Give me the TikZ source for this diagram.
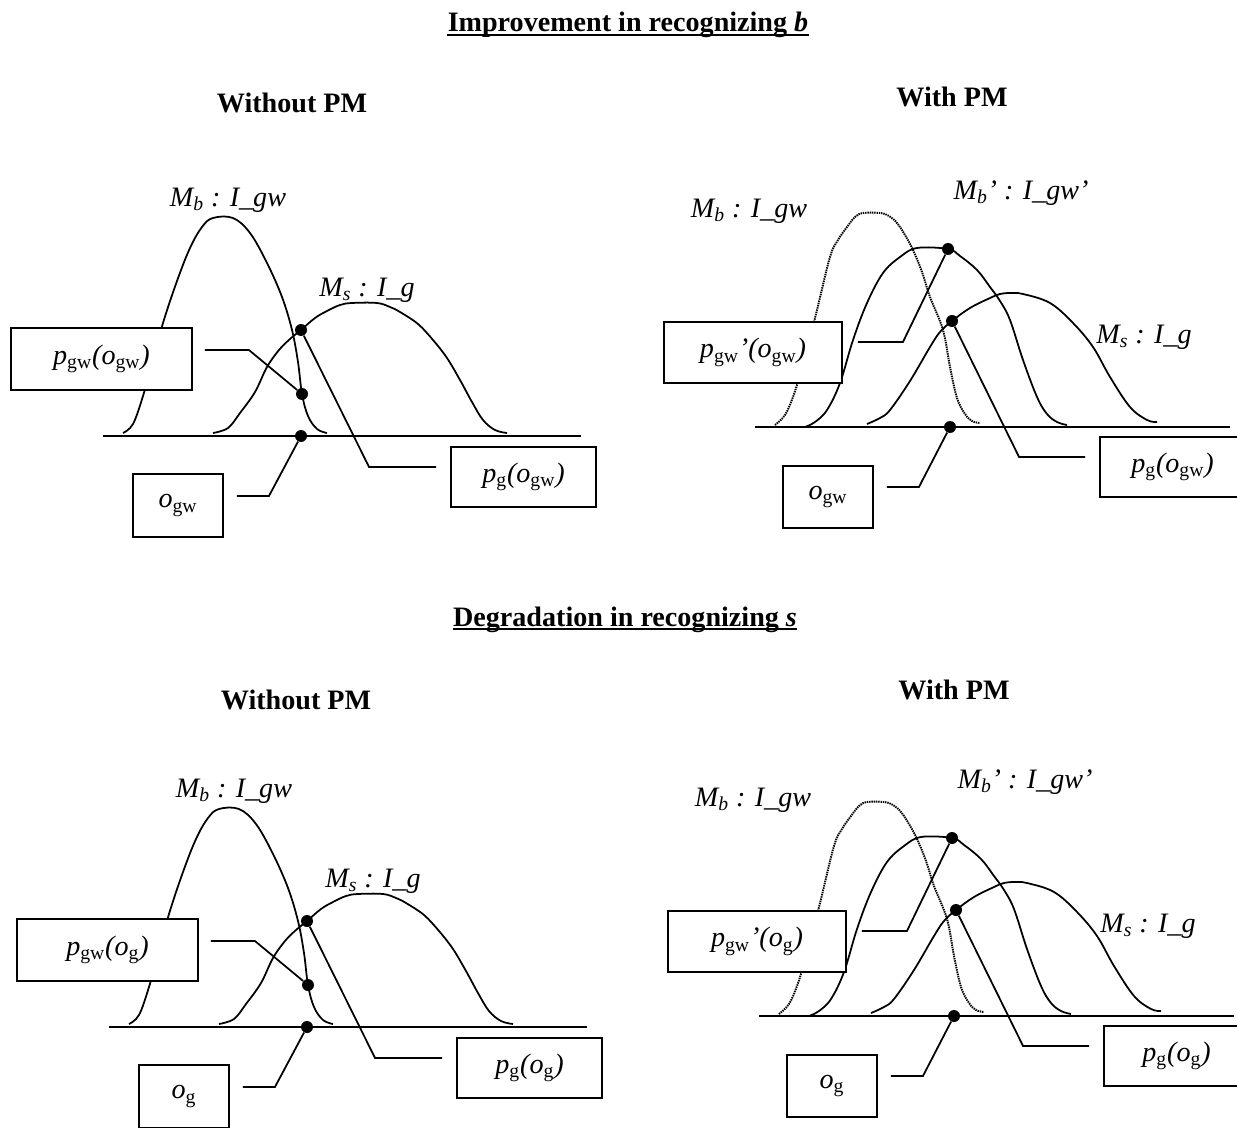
\documentclass[tikz,border=0pt]{standalone}
\usepackage{fontspec}
\setmainfont{Liberation Serif}
\newcommand{\diagfont}{\fontsize{16}{19}\selectfont}

% one panel without PM; #1 is the subscript of the observation
\newcommand{\nopmpanel}[1]{%
  \draw[curve] (103,436) -- (581,436);
  \draw[curve] plot[smooth,tension=.6] coordinates {(123,433) (133,424) (143,396) (153,360) (163,323) (177,281) (190,248) (202,227) (213,218) (233,218) (250,233) (267,263) (282,297) (292,330) (298,362) (302,394) (308,416) (317,429) (327,433)};
  \draw[curve] plot[smooth,tension=.6] coordinates {(213,433) (228,428) (240,413) (255,392) (267,367) (279,350) (290,339) (301,330) (315,318) (327,311) (340,305) (352,303) (377,303) (390,307) (400,312) (418,324) (433,340) (447,358) (460,380) (472,402) (483,420) (495,430) (507,433)};
  \node[lbl] (mb) at (228,200) {M\textsubscript{b} : I\_gw};
  \node[lbl] (ms) at (367,290) {M\textsubscript{s} : I\_g};
  \node[spot] (top) at (301,330) {};
  \node[spot] (mid) at (302,394) {};
  \node[spot] (base) at (301,436) {};
  \node[obsbox,minimum width=3.62cm,minimum height=1.24cm] (pgw) at (101.5,359)
    {\textit{p}\textsubscript{gw}\textit{(o}\textsubscript{#1}\textit{)}};
  \node[obsbox,minimum width=2.9cm,minimum height=1.2cm] (pg) at (523.5,477)
    {\textit{p}\textsubscript{g}\textit{(o}\textsubscript{#1}\textit{)}};
  \node[obsbox,minimum width=1.8cm,minimum height=1.26cm] (obs) at (178,505.5)
    {\textit{o}\textsubscript{#1}};
  \draw[lead] ([xshift=.24cm,yshift=.18cm]pgw.east) -- ++(44,0) -- (mid);
  \draw[lead] ([xshift=-.28cm,yshift=.2cm]pg.west) -- ++(-67,0) -- (top);
  \draw[lead] ([xshift=.26cm,yshift=.19cm]obs.east) -- ++(32,0) -- (base);
}

% one panel with PM; #1 is the subscript of the observation
\newcommand{\pmpanel}[1]{%
  \draw[curve] (755,427) -- (1230,427);
  \draw[oldcurve] plot[smooth,tension=.6] coordinates {(775,425) (785,415) (793,397) (800,375) (807,350) (817,310) (830,257) (838,240) (847,227) (855,217) (863,213) (880,213) (889,216) (897,223) (905,235) (913,250) (922,272) (930,297) (943,330) (950,367) (957,398) (965,414) (972,421) (980,423)};
  \draw[curve] plot[smooth,tension=.6] coordinates {(805,427) (815,422) (827,410) (840,383) (853,340) (867,303) (883,273) (900,257) (917,248) (948,249) (960,256) (977,270) (990,287) (1000,301) (1010,320) (1023,360) (1037,397) (1047,414) (1057,422) (1067,425)};
  \draw[curve] plot[smooth,tension=.6] coordinates {(867,424) (880,418) (890,410) (910,381) (930,347) (940,332) (952,321) (970,308) (990,298) (1000,294) (1010,293) (1023,294) (1050,303) (1073,323) (1093,347) (1110,377) (1130,407) (1147,420) (1157,422)};
  \node[lbl] (mb) at (749,211) {M\textsubscript{b} : I\_gw};
  \node[lbl] (mbnew) at (1021,193) {M\textsubscript{b}' : I\_gw'};
  \node[lbl] (ms) at (1144,337) {M\textsubscript{s} : I\_g};
  \node[spot] (top) at (948,249) {};
  \node[spot] (mid) at (952,321) {};
  \node[spot] (base) at (950,427) {};
  \node[obsbox,minimum width=3.56cm,minimum height=1.22cm] (pgw) at (753,352.5)
    {\textit{p}\textsubscript{gw}\textit{'(o}\textsubscript{#1}\textit{)}};
  \node[obsbox,minimum width=2.9cm,minimum height=1.2cm] (pg) at (1172.5,467)
    {\textit{p}\textsubscript{g}\textit{(o}\textsubscript{#1}\textit{)}};
  \node[obsbox,minimum width=1.8cm,minimum height=1.24cm] (obs) at (828,497)
    {\textit{o}\textsubscript{#1}};
  \draw[lead] ([xshift=.3cm,yshift=.21cm]pgw.east) -- ++(45,0) -- (top);
  \draw[lead] ([xshift=-.28cm,yshift=.2cm]pg.west) -- ++(-66,0) -- (mid);
  \draw[lead] ([xshift=.26cm,yshift=.2cm]obs.east) -- ++(32,0) -- (base);
}

\begin{document}
\begin{tikzpicture}[x=0.02cm,y=-0.02cm,
    curve/.style={line width=1pt},
    oldcurve/.style={line width=1.1pt,dash pattern=on 0.8pt off 0.5pt},
    lead/.style={line width=1pt},
    spot/.style={circle,fill=black,inner sep=0pt,minimum size=0.24cm},
    obsbox/.style={draw,line width=1.1pt,fill=white,inner sep=0pt,font=\diagfont},
    lbl/.style={font=\diagfont\itshape,inner sep=0pt},
    head/.style={font=\diagfont\bfseries,inner sep=0pt},
    title/.style={font=\diagfont\bfseries,inner sep=0pt,anchor=base}]
  \useasboundingbox (0,0) rectangle (1237,1128);
  \clip (0,0) rectangle (1237,1128);
  % upper half
  \node[title] (impr) at (628,32) {Improvement in recognizing \textit{b}};
  \draw[line width=1.2pt] ([yshift=-0.06cm]impr.base west) -- ([yshift=-0.06cm]impr.base east);
  \node[head] (nopmup) at (292,103) {Without PM};
  \node[head] (pmup) at (952,97) {With PM};
  \begin{scope}[name prefix=tl-]
    \nopmpanel{gw}
  \end{scope}
  \begin{scope}[name prefix=tr-]
    \pmpanel{gw}
  \end{scope}
  % lower half
  \node[title] (degr) at (625,626) {Degradation in recognizing \textit{s}};
  \draw[line width=1.2pt] ([yshift=-0.06cm]degr.base west) -- ([yshift=-0.06cm]degr.base east);
  \node[head] (nopmlow) at (296,700) {Without PM};
  \node[head] (pmlow) at (954,690) {With PM};
  \begin{scope}[shift={(6,591)},name prefix=bl-]
    \nopmpanel{g}
  \end{scope}
  \begin{scope}[shift={(4,589)},name prefix=br-]
    \pmpanel{g}
  \end{scope}
\end{tikzpicture}
\end{document}
